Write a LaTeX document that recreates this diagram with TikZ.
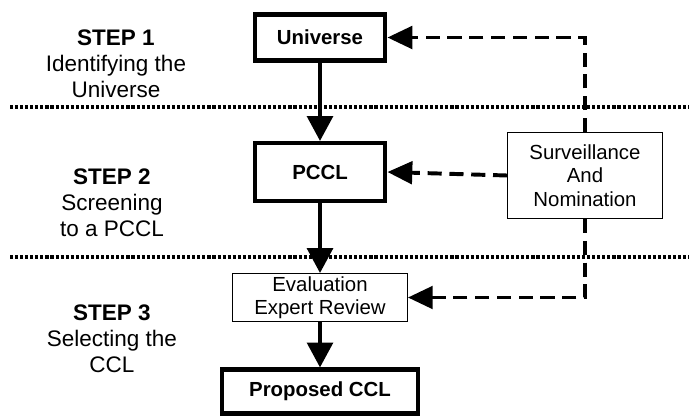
\documentclass[tikz,border=0pt]{standalone}
\usepackage{fontspec}
\setmainfont{Liberation Sans}
\usetikzlibrary{positioning,arrows.meta}

\begin{document}
\begin{tikzpicture}[x=0.025cm, y=-0.025cm,
    thickbox/.style={draw, line width=3.2pt, inner sep=0pt, font=\fontsize{14.5}{16.5}\selectfont\bfseries},
    thinbox/.style={draw, line width=1pt, inner sep=0pt, align=center, font=\fontsize{14.5}{16.7}\selectfont},
    steptext/.style={align=center, font=\fontsize{16}{18.4}\selectfont},
    flow/.style={line width=2.8pt, -{Triangle[length=0.62cm,width=0.64cm]}},
    feedback/.style={line width=2.8pt, dash pattern=on 10pt off 5.5pt, -{Triangle[length=0.62cm,width=0.56cm]}},
    divider/.style={line width=2.2pt, dash pattern=on 2.2pt off 1.4pt}]
    \useasboundingbox (0,0) rectangle (689,416);

    % Step labels
    \node[steptext] (step1) at (116,64) {\textbf{STEP 1}\\Identifying the\\Universe};
    \node[steptext] (step2) at (112,203) {\textbf{STEP 2}\\Screening\\to a PCCL};
    \node[steptext] (step3) at (112,339) {\textbf{STEP 3}\\Selecting the\\CCL};

    % Dividers
    \coordinate (div1-l) at (10,107);
    \coordinate (div1-r) at (689,107);
    \coordinate (div2-l) at (10,257);
    \coordinate (div2-r) at (689,257);
    \draw[divider] (div1-l) -- (div1-r);
    \draw[divider] (div2-l) -- (div2-r);

    % Main chain
    \node[thickbox, minimum width=3.26cm, minimum height=1.16cm] (univ) at (320,37.5) {Universe};
    \node[thickbox, minimum width=3.26cm, minimum height=1.44cm] (pccl) at (320,172) {PCCL};
    \node[thinbox, minimum width=4.36cm, minimum height=1.19cm] (eval) at (320,297.5) {Evaluation\\Expert Review};
    \node[thickbox, minimum width=4.91cm, minimum height=1.09cm] (prop) at (320,391.5) {Proposed CCL};

    % Surveillance
    \node[thinbox, minimum width=3.86cm, minimum height=2.14cm] (surv) at (585,175.5) {Surveillance\\And\\Nomination};

    % Flow
    \draw[flow] (univ) -- (pccl);
    \draw[flow] (pccl) -- (eval);
    \draw[flow] (eval) -- (prop);

    % Feedback
    \draw[feedback] (surv.north) |- (univ.east);
    \draw[feedback] (surv.west) -- (pccl.east);
    \draw[feedback] (surv.south) |- (eval.east);
\end{tikzpicture}
\end{document}
